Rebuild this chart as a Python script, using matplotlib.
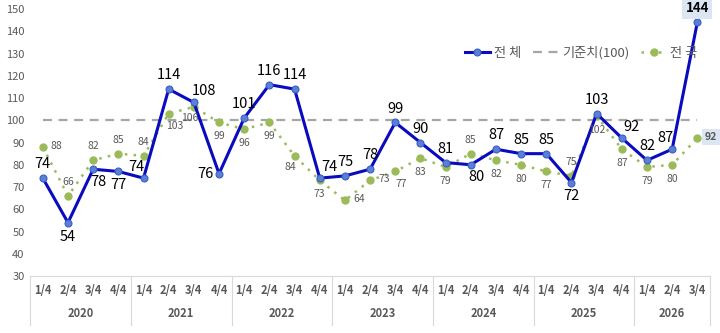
import matplotlib
matplotlib.use("Agg")
import matplotlib.pyplot as plt
import matplotlib.transforms as mtransforms

plt.rcParams['font.family'] = ['Noto Sans CJK KR', 'DejaVu Sans']

# 데이터
years = ['2020', '2021', '2022', '2023', '2024', '2025', '2026']
quarters = ['1/4', '2/4', '3/4', '4/4'] * 6 + ['1/4', '2/4', '3/4']
total = [74, 54, 78, 77, 74, 114, 108, 76, 101, 116, 114, 74, 75, 78, 99, 90,
         81, 80, 87, 85, 85, 72, 103, 92, 82, 87, 144]
national = [88, 66, 82, 85, 84, 103, 106, 99, 96, 99, 84, 73, 64, 73, 77, 83,
            79, 85, 82, 80, 77, 75, 102, 87, 79, 80, 92]
baseline = 100

# 라벨 위치 (u=위, d=아래, l=왼쪽, r=오른쪽)
total_pos = ['u', 'd', 'dr', 'd', 'ul', 'u', 'ur', 'l', 'u', 'u', 'u', 'ur',
             'u', 'u', 'u', 'u', 'u', 'dr', 'u', 'u', 'u', 'd', 'u', 'ur',
             'u', 'ul', 'u']
nat_pos = ['r', 'u', 'u', 'u', 'u', 'dr', 'dl', 'd', 'd', 'd', 'dl', 'd',
           'r', 'r', 'dr', 'd', 'd', 'u', 'd', 'd', 'd', 'u', 'd', 'd',
           'd', 'd', 'r']

offsets = {'u': (0, 10), 'd': (0, -10), 'l': (-10, 0), 'r': (10, 1),
           'ul': (-5, 8), 'ur': (7, 8), 'dl': (-3, -8), 'dr': (4, -9)}

x = list(range(len(total)))

fig = plt.figure(figsize=(7.2, 3.33), dpi=100)
ax = fig.add_axes([0.042, 0.171, 0.944, 0.802])

ax.plot(x, [baseline] * len(x), color='#A6A6A6', lw=1.6, ls=(0, (4, 3)),
        label='기준치(100)', zorder=1)
ax.plot(x, national, color='#9BBB59', lw=1.8, ls=(0, (1, 2.5)), marker='o',
        ms=5, mfc='#9BBB59', mec='#9BBB59', label='전 국', zorder=2)
ax.plot(x, total, color='#0A0ABF', lw=2.2, marker='o', ms=5,
        mfc='#5B7FD6', mec='#3A5FC4', mew=0.8, label='전 체', zorder=3)

for i, v in enumerate(total):
    dx, dy = offsets[total_pos[i]]
    last = i == len(total) - 1
    ax.annotate(str(v), (i, v), xytext=(dx, dy), textcoords='offset points',
                ha='center', va='center', fontsize=10.5 if not last else 9.5,
                fontweight='bold' if last else 'normal', color='black',
                bbox=dict(boxstyle='square,pad=0.25', fc='#DCE6F2', ec='none') if last else None,
                zorder=5)

for i, v in enumerate(national):
    dx, dy = offsets[nat_pos[i]]
    last = i == len(national) - 1
    ax.annotate(str(v), (i, v), xytext=(dx, dy), textcoords='offset points',
                ha='center', va='center', fontsize=7.5, color='#595959',
                fontweight='bold' if last else 'normal',
                bbox=dict(boxstyle='square,pad=0.3', fc='#DCE6F2', ec='none') if last else None,
                zorder=4)

ax.set_xlim(-0.5, len(x) - 0.5)
ax.set_ylim(30, 150)
ax.set_yticks(range(30, 151, 10))
ax.tick_params(axis='y', length=0, labelsize=8, labelcolor='#595959', pad=4)
ax.set_xticks([])
for s in ['top', 'right', 'left']:
    ax.spines[s].set_visible(False)
ax.spines['bottom'].set_color('#D9D9D9')

# 2단 x축 라벨
trans = mtransforms.blended_transform_factory(ax.transData, ax.transAxes)
for i, q in enumerate(quarters):
    ax.text(i, -0.055, q, transform=trans, ha='center', va='center',
            fontsize=8, fontweight='bold', color='#595959')
start = 0
for y in years:
    n = min(4, len(x) - start)
    ax.text(start + (n - 1) / 2, -0.14, y, transform=trans, ha='center',
            va='center', fontsize=8, fontweight='bold', color='#595959')
    start += n
for b in [-0.5, 3.5, 7.5, 11.5, 15.5, 19.5, 23.5, 26.5]:
    ax.plot([b, b], [0, -0.185], transform=trans, color='#D9D9D9', lw=0.8,
            clip_on=False)

handles, labels = ax.get_legend_handles_labels()
order = [2, 0, 1]
ax.legend([handles[k] for k in order], [labels[k] for k in order], ncol=3,
          frameon=False, loc='center right', bbox_to_anchor=(0.995, 0.835),
          fontsize=9.5, handlelength=1.9, columnspacing=0.9, handletextpad=0.3,
          labelcolor='#595959', borderpad=0.2)

fig.savefig('out.png', dpi=100)
